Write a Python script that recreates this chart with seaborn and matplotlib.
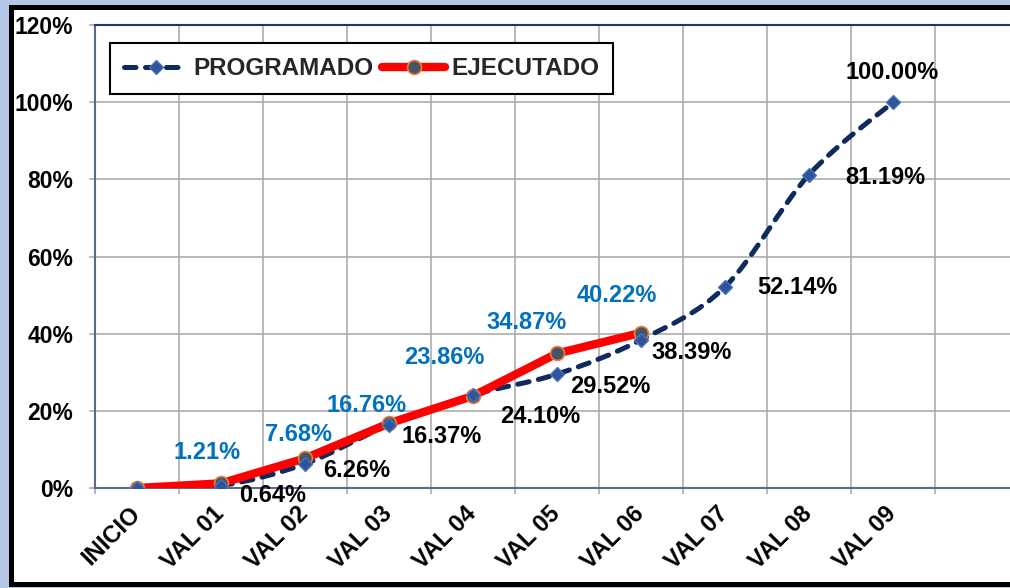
import matplotlib
matplotlib.use("Agg")
import matplotlib.pyplot as plt
from matplotlib.patches import Rectangle, PathPatch
from matplotlib.path import Path
from matplotlib.lines import Line2D
from matplotlib.ticker import FixedLocator
import seaborn as sns
import pandas as pd

# ---------------- data ----------------
categories = ["INICIO", "VAL 01", "VAL 02", "VAL 03", "VAL 04", "VAL 05",
              "VAL 06", "VAL 07", "VAL 08", "VAL 09"]
programado = [0.00, 0.64, 6.26, 16.37, 24.10, 29.52, 38.39, 52.14, 81.19, 100.00]
ejecutado = [0.00, 1.21, 7.68, 16.76, 23.86, 34.87, 40.22]
y_ticks = [0, 20, 40, 60, 80, 100, 120]
series_names = ["PROGRAMADO", "EJECUTADO"]

# label offsets (pixels) – styling only
prog_offsets = [None, (52, -10), (52, -7), (53, -12), (67, -21), (53, -12),
                (51, -13), (72, -1), (76, -3), (-1, 30)]
ejec_offsets = [None, (-14, 31), (-7, 24), (-22, 18), (-29, 38), (-30, 31), (-24, 37)]

df_prog = pd.DataFrame({"etapa": categories, "valor": programado})
df_ejec = pd.DataFrame({"etapa": categories[:len(ejecutado)], "valor": ejecutado})

# ---------------- style ----------------
sns.set_theme(style="white")
plt.rcParams["font.family"] = ["Liberation Sans", "DejaVu Sans"]
plt.rcParams["font.weight"] = "bold"

W, H = 1010, 588
fig = plt.figure(figsize=(W / 100, H / 100), dpi=100, facecolor="#B4C7E7")

frame = Rectangle((10.5 / W, 4.0 / H), 1.2, (581.5 - 4.0) / H,
                  transform=fig.transFigure, facecolor="white",
                  edgecolor="black", linewidth=3.6, zorder=0)
fig.add_artist(frame)

ax = fig.add_axes([95 / W, (H - 488) / H, (W - 95) / W, 463 / H])
ax.set_facecolor("white")

navy = "#0E2A5E"
red = "#FF0000"
blue_lbl = "#0070C0"
dash = (0, (2.3, 1.9))
prog_lw = 3.6

# PROGRAMADO markers via seaborn (line drawn smoothed below, Excel-style)
sns.lineplot(data=df_prog, x="etapa", y="valor", ax=ax, sort=False, legend=False,
             color=navy, linewidth=0, marker="D", markersize=7.5,
             markerfacecolor="#2F5597", markeredgecolor="#4472C4",
             markeredgewidth=1.0, zorder=5)

# smoothed dashed curve through the PROGRAMADO points (in data coordinates)
xs = list(range(len(programado)))
ys = programado
verts = [(xs[0], ys[0])]
codes = [Path.MOVETO]
n = len(xs)
for i in range(n - 1):
    x0, y0 = xs[max(i - 1, 0)], ys[max(i - 1, 0)]
    x1, y1 = xs[i], ys[i]
    x2, y2 = xs[i + 1], ys[i + 1]
    x3, y3 = xs[min(i + 2, n - 1)], ys[min(i + 2, n - 1)]
    c1 = (x1 + (x2 - x0) / 6.0, y1 + (y2 - y0) / 6.0)
    c2 = (x2 - (x3 - x1) / 6.0, y2 - (y3 - y1) / 6.0)
    verts += [c1, c2, (x2, y2)]
    codes += [Path.CURVE4, Path.CURVE4, Path.CURVE4]
curve = PathPatch(Path(verts, codes), fill=False, edgecolor=navy,
                  linewidth=prog_lw, linestyle=dash, capstyle="round",
                  transform=ax.transData, zorder=3)
ax.add_patch(curve)

sns.lineplot(data=df_ejec, x="etapa", y="valor", ax=ax, sort=False, legend=False,
             color=red, linewidth=6.0, solid_capstyle="round",
             marker="o", markersize=10, markerfacecolor="#44546A",
             markeredgecolor="#ED7D31", markeredgewidth=1.2, zorder=4)

# axes limits & ticks
ax.set_xlim(-0.5, -0.5 + (W - 95) / 84.0)
ax.set_ylim(0, 120)
ax.set_yticks(y_ticks)
ax.set_yticklabels([f"{v}%" for v in y_ticks])
ax.set_xticks(range(len(categories)))
ax.set_xticklabels(categories, rotation=45, ha="right", va="center",
                   rotation_mode="anchor")
ax.xaxis.set_minor_locator(FixedLocator([i - 0.5 for i in range(12)]))
ax.set_xlabel("")
ax.set_ylabel("")

ax.tick_params(axis="x", which="major", length=0, pad=16, labelsize=17)
ax.tick_params(axis="x", which="minor", length=4.3, width=1.1, color="#A6A6A6",
               direction="out", bottom=True)
ax.tick_params(axis="y", which="major", length=4.3, width=1.1, color="#A6A6A6",
               direction="out", left=True, pad=11.5, labelsize=16.5)
for lbl in ax.get_xticklabels() + ax.get_yticklabels():
    lbl.set_fontweight("bold")
    lbl.set_color("black")

ax.grid(False)
ax.grid(True, axis="x", which="minor", color="#A6A6A6", linewidth=1.1, zorder=1)
ax.grid(True, axis="y", which="major", color="#A6A6A6", linewidth=1.1, zorder=1)
ax.set_axisbelow(True)

ax.spines["right"].set_visible(False)
for s in ("left", "bottom"):
    ax.spines[s].set_color("#5B6A85")
    ax.spines[s].set_linewidth(1.5)
ax.spines["top"].set_color("#1F3864")
ax.spines["top"].set_linewidth(1.5)

# data labels
for i, (v, off) in enumerate(zip(programado, prog_offsets)):
    if off is None:
        continue
    ax.annotate(f"{v:.2f}%", xy=(i, v), xytext=off, textcoords="offset pixels",
                ha="center", va="center", fontsize=17, fontweight="bold",
                color="black", zorder=6)
for i, (v, off) in enumerate(zip(ejecutado, ejec_offsets)):
    if off is None:
        continue
    ax.annotate(f"{v:.2f}%", xy=(i, v), xytext=off, textcoords="offset pixels",
                ha="center", va="center", fontsize=17, fontweight="bold",
                color=blue_lbl, zorder=6)

# legend
h_prog = Line2D([], [], color=navy, linewidth=prog_lw, linestyle=dash,
                dash_capstyle="round", marker="D", markersize=7.5,
                markerfacecolor="#2F5597", markeredgecolor="#4472C4")
h_ejec = Line2D([], [], color=red, linewidth=6.0, solid_capstyle="round",
                marker="o", markersize=10, markerfacecolor="#44546A",
                markeredgecolor="#ED7D31", markeredgewidth=1.2)
leg = ax.legend([h_prog, h_ejec], series_names, ncol=2, loc="upper left",
                bbox_to_anchor=(110 / W, 1 - 43 / H), bbox_transform=fig.transFigure,
                borderaxespad=0, fancybox=False, framealpha=1, edgecolor="black",
                handlelength=2.6, handletextpad=0.25, columnspacing=0.35,
                borderpad=0.58, numpoints=1,
                prop={"family": "Liberation Sans", "weight": "bold", "size": 17.5})
leg.get_frame().set_linewidth(1.5)
leg.set_zorder(7)

fig.savefig("out.png", dpi=100, facecolor=fig.get_facecolor())
